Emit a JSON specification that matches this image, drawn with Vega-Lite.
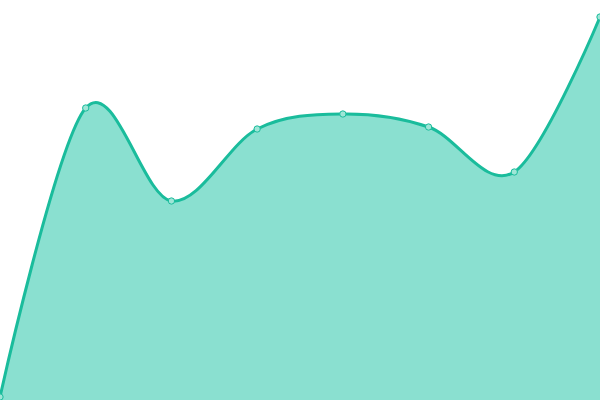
{
  "$schema": "https://vega.github.io/schema/vega-lite/v6.json",
  "width": 600,
  "height": 400,
  "autosize": {"type": "none"},
  "padding": 0,
  "config": {"view": {"stroke": null}},
  "data": {
    "values": [
      {"i": 0, "v": 3},
      {"i": 1, "v": 292},
      {"i": 2, "v": 199},
      {"i": 3, "v": 271},
      {"i": 4, "v": 286},
      {"i": 5, "v": 273},
      {"i": 6, "v": 228},
      {"i": 7, "v": 383}
    ]
  },
  "encoding": {
    "x": {"field": "i", "type": "quantitative", "scale": {"domain": [0, 7], "nice": false, "zero": false}, "axis": null},
    "y": {"field": "v", "type": "quantitative", "scale": {"domain": [0, 400], "nice": false}, "axis": null}
  },
  "layer": [
    {"mark": {"type": "area", "interpolate": "cardinal", "tension": 0, "color": "#8ae0d0", "opacity": 1}},
    {"mark": {"type": "line", "interpolate": "cardinal", "tension": 0, "color": "#1abc9c", "strokeWidth": 3}},
    {"mark": {"type": "point", "filled": true, "fill": "#9fe6d7", "stroke": "#1abc9c", "strokeWidth": 1, "size": 40, "opacity": 1}}
  ]
}
